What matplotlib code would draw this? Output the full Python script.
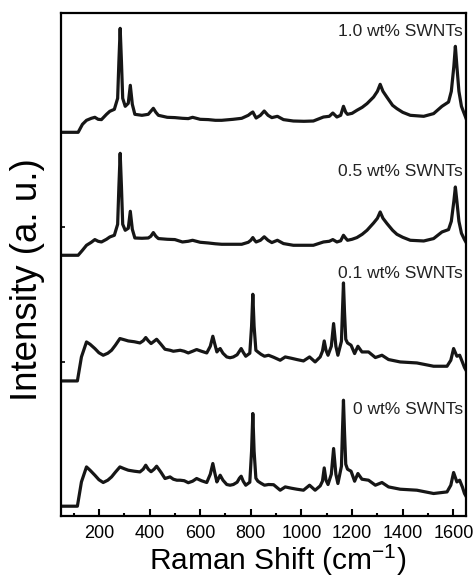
import matplotlib
matplotlib.use("Agg")
import matplotlib.pyplot as plt
from matplotlib.ticker import MultipleLocator

plt.rcParams['font.family'] = ['Liberation Sans', 'DejaVu Sans']
plt.rcParams['mathtext.fontset'] = 'custom'
plt.rcParams['mathtext.rm'] = 'Liberation Sans'
plt.rcParams['mathtext.it'] = 'Liberation Sans'

# Raman shift grids (cm-1)
shift_hi = [50, 118, 135, 151, 170, 184, 197, 210, 230, 243, 261, 274, 279, 284, 289, 294, 304, 316, 324, 332,
            342, 370, 395, 405, 415, 425, 435, 470, 500, 530, 553, 570, 600, 632, 660, 685, 730, 764, 790, 800,
            808, 815, 821, 838, 853, 868, 883, 905, 929, 968, 1010, 1047, 1087, 1110, 1124, 1140, 1155, 1166, 1175, 1182,
            1200, 1219, 1240, 1259, 1285, 1300, 1311, 1322, 1338, 1360, 1377, 1400, 1430, 1483, 1522, 1555, 1581, 1592, 1602, 1608,
            1614, 1622, 1632, 1644, 1650]

shift_lo = [50, 115, 131, 151, 165, 184, 200, 217, 235, 250, 265, 283, 300, 316, 340, 362, 375, 385, 395, 406,
            418, 428, 445, 461, 481, 494, 508, 521, 537, 553, 570, 586, 605, 626, 640, 650, 658, 666, 673, 679,
            690, 705, 718, 731, 746, 755, 762, 770, 780, 796, 803, 808, 813, 820, 828, 840, 854, 870, 890, 916,
            936, 960, 982, 1008, 1032, 1054, 1074, 1083, 1090, 1097, 1105, 1118, 1127, 1136, 1144, 1158, 1162, 1166, 1170, 1175,
            1182, 1196, 1210, 1223, 1239, 1265, 1292, 1318, 1344, 1390, 1456, 1522, 1575, 1590, 1601, 1614, 1625, 1636, 1644, 1650]

# stacked intensities (a. u.)
int_10 = [384, 384, 392, 396, 398, 399, 397, 396.7, 402, 405, 407, 418, 455, 488, 455, 418, 410, 413, 431, 412,
          402, 401, 402, 405, 408, 404, 401, 399, 398.7, 398, 397.7, 399, 397, 396.7, 396, 396, 397, 398, 401, 403,
          404.3, 401, 398.3, 401, 405.3, 401, 398.7, 400, 396.7, 395.3, 395, 395.3, 399.3, 400, 403.3, 399.3, 401, 410, 404, 402,
          403, 406, 409, 412.7, 419.3, 425, 432, 425, 419, 411, 407.7, 404, 401, 400, 402.7, 410, 414.3, 425, 450, 470,
          450, 425, 410, 402, 398]

int_05 = [261, 261, 266, 271, 274, 276.7, 275, 274.3, 277, 279.3, 281, 292, 330, 363, 330, 292, 286, 288, 305, 287,
          278.3, 278, 278.3, 280, 283.7, 280, 277.7, 277, 276.7, 274.3, 275, 276, 274, 273.3, 272.5, 272, 272, 272, 274, 276,
          278.7, 276, 274.3, 276, 279.5, 276, 273.7, 276, 272.7, 271, 271, 271, 274.3, 275, 276.7, 274.3, 275.5, 281, 278, 276,
          277, 278.7, 282, 286, 293.3, 298, 304.3, 298, 292.7, 286, 282, 279, 276, 275.3, 277.7, 284.3, 286.7, 295, 315, 329.3,
          315, 295, 283, 276.7, 274]

int_01 = [135.3, 135.3, 159.3, 174.3, 172, 167.7, 163.5, 161, 163, 166, 171, 177.7, 176.5, 175.3, 174.5, 173.3, 175.5, 178.7, 175.5, 172.7,
          175, 177, 172, 167, 166, 165, 165.5, 166, 165, 163.3, 165, 166.7, 165, 163.3, 170, 180, 172, 164.3, 166.5, 167.7,
          163, 159.3, 158.5, 159.3, 161.5, 165, 167.7, 164, 160, 163, 190, 222, 190, 166, 164.3, 162, 160, 161, 159, 156,
          159.3, 158, 156.7, 155.3, 159.3, 154.3, 159.3, 165, 175.3, 166, 161, 170, 192.7, 170, 161, 175, 205, 233.3, 205, 177,
          173.3, 171, 162.7, 170, 164.3, 164.3, 158.7, 161, 156.7, 154.3, 153.3, 150, 150, 156, 167.7, 160, 161, 154, 148.7, 146]

int_00 = [10, 10, 34.3, 49.3, 46, 41, 36.5, 33.7, 36, 39.3, 44, 49.3, 47.5, 46, 45, 44.3, 47, 51, 47, 44.5,
          47, 50, 44, 37.7, 39.3, 37, 36, 36, 35.5, 33.5, 35, 37.7, 35.5, 33.7, 42, 52.7, 43, 34.3, 38, 41,
          36, 31.7, 31, 31.7, 34, 38, 40, 35, 31, 34, 65, 102.7, 65, 38, 35, 33, 31, 31.7, 31.5, 26,
          29.3, 28, 27, 26, 31, 26, 30.3, 35, 48.3, 36, 31.7, 42, 67.7, 42, 32.7, 50, 85, 116, 85, 52,
          47, 45, 35, 42.7, 37, 36, 31, 33.7, 29.3, 27, 26, 22.7, 24.3, 31, 43.7, 34.3, 36, 29, 22.7, 20]

labels = ["1.0 wt% SWNTs", "0.5 wt% SWNTs", "0.1 wt% SWNTs", "0 wt% SWNTs"]
label_y = [485, 345, 243, 107]

fig = plt.figure(figsize=(4.76, 5.8), dpi=100)
ax = fig.add_axes([0.128, 0.110, 0.851, 0.867])

lc = '#161616'
ax.plot(shift_hi, int_10, color=lc, lw=2.3, solid_joinstyle='round')
ax.plot(shift_hi, int_05, color=lc, lw=2.3, solid_joinstyle='round')
ax.plot(shift_lo, int_01, color=lc, lw=2.3, solid_joinstyle='round')
ax.plot(shift_lo, int_00, color=lc, lw=2.3, solid_joinstyle='round')

for lab, yy in zip(labels, label_y):
    ax.text(1638, yy, lab, ha='right', va='center', fontsize=12.5, color='#222222')

ax.set_xlim(50, 1650)
ax.set_ylim(0, 503)
ax.xaxis.set_major_locator(MultipleLocator(200))
ax.xaxis.set_minor_locator(MultipleLocator(100))
ax.set_yticks([154, 289])
ax.set_yticklabels([])
ax.tick_params(axis='x', which='major', direction='in', length=5, width=1.5, labelsize=13, pad=6.5)
ax.tick_params(axis='x', which='minor', direction='in', length=2.5, width=1.5)
ax.tick_params(axis='y', direction='in', length=3, width=1.2)
for sp in ax.spines.values():
    sp.set_linewidth(1.6)

ax.set_xlabel('Raman Shift (cm$^{-1}$)', fontsize=21.5, va='baseline')
ax.xaxis.set_label_coords(0.536, -0.106)
ax.set_ylabel('Intensity (a. u.)', fontsize=26.5)
ax.yaxis.set_label_coords(-0.040, 0.47)

fig.savefig('out.png', dpi=100)
